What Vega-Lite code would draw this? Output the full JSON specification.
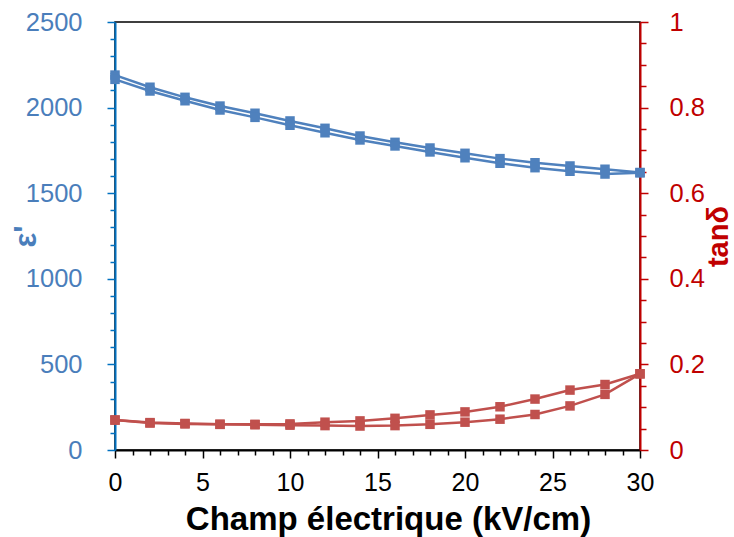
{
  "$schema": "https://vega.github.io/schema/vega-lite/v6.json",
  "width": 525,
  "height": 428,
  "autosize": "none",
  "padding": {"left": 115, "top": 22, "right": 94, "bottom": 87},
  "background": "white",
  "config": {
    "view": {"stroke": "black", "strokeWidth": 1.5},
    "font": "Liberation Sans",
    "axis": {"grid": false, "labelFont": "Liberation Sans", "titleFont": "Liberation Sans"}
  },
  "datasets": {
    "eps": [
      {"E": 0, "eps": 2190, "sweep": "a"}, {"E": 2, "eps": 2119, "sweep": "a"}, {"E": 4, "eps": 2060, "sweep": "a"},
      {"E": 6, "eps": 2009, "sweep": "a"}, {"E": 8, "eps": 1967, "sweep": "a"}, {"E": 10, "eps": 1922, "sweep": "a"},
      {"E": 12, "eps": 1879, "sweep": "a"}, {"E": 14, "eps": 1834, "sweep": "a"}, {"E": 16, "eps": 1797, "sweep": "a"},
      {"E": 18, "eps": 1764, "sweep": "a"}, {"E": 20, "eps": 1733, "sweep": "a"}, {"E": 22, "eps": 1702, "sweep": "a"},
      {"E": 24, "eps": 1678, "sweep": "a"}, {"E": 26, "eps": 1659, "sweep": "a"}, {"E": 28, "eps": 1640, "sweep": "a"},
      {"E": 30, "eps": 1621, "sweep": "a"},
      {"E": 0, "eps": 2165, "sweep": "b"}, {"E": 2, "eps": 2097, "sweep": "b"}, {"E": 4, "eps": 2040, "sweep": "b"},
      {"E": 6, "eps": 1986, "sweep": "b"}, {"E": 8, "eps": 1943, "sweep": "b"}, {"E": 10, "eps": 1897, "sweep": "b"},
      {"E": 12, "eps": 1853, "sweep": "b"}, {"E": 14, "eps": 1811, "sweep": "b"}, {"E": 16, "eps": 1776, "sweep": "b"},
      {"E": 18, "eps": 1741, "sweep": "b"}, {"E": 20, "eps": 1707, "sweep": "b"}, {"E": 22, "eps": 1675, "sweep": "b"},
      {"E": 24, "eps": 1649, "sweep": "b"}, {"E": 26, "eps": 1628, "sweep": "b"}, {"E": 28, "eps": 1612, "sweep": "b"},
      {"E": 30, "eps": 1619, "sweep": "b"}
    ],
    "tan": [
      {"E": 0, "tan": 0.070, "sweep": "a"}, {"E": 2, "tan": 0.064, "sweep": "a"}, {"E": 4, "tan": 0.062, "sweep": "a"},
      {"E": 6, "tan": 0.060, "sweep": "a"}, {"E": 8, "tan": 0.060, "sweep": "a"}, {"E": 10, "tan": 0.061, "sweep": "a"},
      {"E": 12, "tan": 0.065, "sweep": "a"}, {"E": 14, "tan": 0.068, "sweep": "a"}, {"E": 16, "tan": 0.074, "sweep": "a"},
      {"E": 18, "tan": 0.082, "sweep": "a"}, {"E": 20, "tan": 0.089, "sweep": "a"}, {"E": 22, "tan": 0.101, "sweep": "a"},
      {"E": 24, "tan": 0.119, "sweep": "a"}, {"E": 26, "tan": 0.140, "sweep": "a"}, {"E": 28, "tan": 0.153, "sweep": "a"},
      {"E": 30, "tan": 0.178, "sweep": "a"},
      {"E": 0, "tan": 0.070, "sweep": "b"}, {"E": 2, "tan": 0.063, "sweep": "b"}, {"E": 4, "tan": 0.061, "sweep": "b"},
      {"E": 6, "tan": 0.060, "sweep": "b"}, {"E": 8, "tan": 0.059, "sweep": "b"}, {"E": 10, "tan": 0.058, "sweep": "b"},
      {"E": 12, "tan": 0.057, "sweep": "b"}, {"E": 14, "tan": 0.056, "sweep": "b"}, {"E": 16, "tan": 0.057, "sweep": "b"},
      {"E": 18, "tan": 0.060, "sweep": "b"}, {"E": 20, "tan": 0.065, "sweep": "b"}, {"E": 22, "tan": 0.072, "sweep": "b"},
      {"E": 24, "tan": 0.083, "sweep": "b"}, {"E": 26, "tan": 0.103, "sweep": "b"}, {"E": 28, "tan": 0.130, "sweep": "b"},
      {"E": 30, "tan": 0.178, "sweep": "b"}
    ]
  },
  "encoding": {
    "x": {
      "field": "E", "type": "quantitative",
      "scale": {"domain": [0, 30], "nice": false, "zero": false},
      "axis": {
        "title": "Champ électrique (kV/cm)",
        "values": [0,1,2,3,4,5,6,7,8,9,10,11,12,13,14,15,16,17,18,19,20,21,22,23,24,25,26,27,28,29,30],
        "format": "d",
        "labelExpr": "datum.value % 5 === 0 ? datum.label : ''",
        "labelFontSize": 25, "labelColor": "black", "labelPadding": 12,
        "labelOverlap": false, "labelFlush": false,
        "tickColor": "black", "tickWidth": 1.5,
        "tickSize": {"condition": {"test": "datum.value % 5 === 0", "value": 8}, "value": 5},
        "domainColor": "black", "domainWidth": 2,
        "titleFontSize": 33, "titleFontWeight": "bold", "titleColor": "black",
        "titleX": 273, "titleY": 79, "titleBaseline": "alphabetic"
      }
    },
    "detail": {"field": "sweep"}
  },
  "layer": [
    {
      "data": {"name": "eps"},
      "mark": {"type": "line", "color": "#4F81BD", "strokeWidth": 2.5, "clip": false,
               "point": {"shape": "square", "filled": true, "size": 90, "color": "#4F81BD"}},
      "encoding": {
        "y": {
          "field": "eps", "type": "quantitative",
          "scale": {"domain": [0, 2500], "nice": false},
          "axis": {
            "title": "ε'",
            "values": [0,100,200,300,400,500,600,700,800,900,1000,1100,1200,1300,1400,1500,1600,1700,1800,1900,2000,2100,2200,2300,2400,2500],
            "format": "d",
            "labelExpr": "datum.value % 500 === 0 ? datum.label : ''",
            "labelFontSize": 25.5, "labelColor": "#4A7EBB", "labelPadding": 25,
            "labelOverlap": false, "labelFlush": false,
            "tickColor": "#0070C0", "tickWidth": 1.5,
            "tickSize": {"condition": {"test": "datum.value % 500 === 0", "value": 8}, "value": 5},
            "domainColor": "#0070C0", "domainWidth": 2,
            "titleFontSize": 31, "titleFontWeight": "bold", "titleColor": "#4A7EBB",
            "titleAngle": 270, "titleX": -89, "titleY": 214, "titleBaseline": "middle", "titleAlign": "center"
          }
        }
      }
    },
    {
      "data": {"name": "tan"},
      "mark": {"type": "line", "color": "#C0504D", "strokeWidth": 2.5, "clip": false,
               "point": {"shape": "square", "filled": true, "size": 90, "color": "#C0504D"}},
      "encoding": {
        "y": {
          "field": "tan", "type": "quantitative",
          "scale": {"domain": [0, 1], "nice": false},
          "axis": {
            "orient": "right",
            "title": "tanδ",
            "values": [0,0.05,0.1,0.15,0.2,0.25,0.3,0.35,0.4,0.45,0.5,0.55,0.6,0.65,0.7,0.75,0.8,0.85,0.9,0.95,1],
            "format": ".1~f",
            "labelExpr": "abs(datum.value*5 - round(datum.value*5)) < 0.001 ? datum.label : ''",
            "labelFontSize": 25.5, "labelColor": "#C00000", "labelPadding": 21,
            "labelOverlap": false, "labelFlush": false,
            "tickColor": "#C00000", "tickWidth": 1.5,
            "tickSize": {"condition": {"test": "abs(datum.value*5 - round(datum.value*5)) < 0.001", "value": 8}, "value": 6},
            "domainColor": "#C00000", "domainWidth": 2,
            "titleFontSize": 29, "titleFontWeight": "bold", "titleColor": "#C00000",
            "titleAngle": 270, "titleX": 78, "titleY": 214, "titleBaseline": "middle", "titleAlign": "center"
          }
        }
      }
    }
  ],
  "resolve": {"scale": {"y": "independent"}}
}
